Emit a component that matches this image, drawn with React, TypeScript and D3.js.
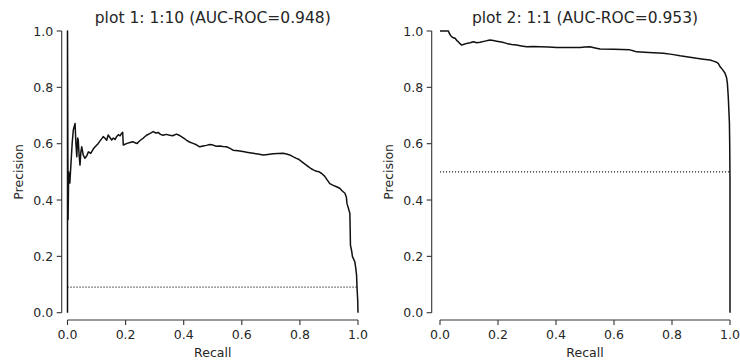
import React from "react";
import * as d3 from "d3";

// ---- Data ----
const titles = ["plot 1: 1:10 (AUC-ROC=0.948)", "plot 2: 1:1 (AUC-ROC=0.953)"];
const baselines = [0.0909, 0.5];
const tickValues = [0, 0.2, 0.4, 0.6, 0.8, 1.0];

// [recall, precision]
const curve1: [number, number][] = [
  [0, 0], [0, 1], [0.002, 0.33], [0.004, 0.5], [0.008, 0.46], [0.012, 0.53], [0.016, 0.6],
  [0.02, 0.649], [0.026, 0.672], [0.029, 0.6], [0.032, 0.554], [0.035, 0.62], [0.037, 0.613],
  [0.04, 0.56], [0.043, 0.524], [0.046, 0.57], [0.049, 0.589], [0.054, 0.56], [0.06, 0.548],
  [0.066, 0.556], [0.072, 0.571], [0.08, 0.566], [0.088, 0.58], [0.095, 0.589], [0.1, 0.594],
  [0.106, 0.601], [0.112, 0.61], [0.118, 0.618], [0.123, 0.625], [0.129, 0.619], [0.135, 0.612],
  [0.14, 0.631], [0.146, 0.622], [0.152, 0.613], [0.158, 0.62], [0.164, 0.615], [0.169, 0.625],
  [0.175, 0.632], [0.181, 0.628], [0.186, 0.637], [0.19, 0.64], [0.192, 0.595], [0.198, 0.598],
  [0.205, 0.601], [0.215, 0.604], [0.225, 0.607], [0.232, 0.603], [0.24, 0.601], [0.244, 0.606],
  [0.252, 0.613], [0.261, 0.62], [0.272, 0.63], [0.283, 0.636], [0.295, 0.643], [0.304, 0.638],
  [0.312, 0.64], [0.32, 0.633], [0.329, 0.63], [0.34, 0.633], [0.352, 0.63], [0.362, 0.628],
  [0.375, 0.634], [0.384, 0.63], [0.392, 0.625], [0.4, 0.62], [0.409, 0.613], [0.42, 0.606],
  [0.432, 0.601], [0.444, 0.596], [0.455, 0.589], [0.467, 0.592], [0.478, 0.594], [0.49, 0.597],
  [0.501, 0.595], [0.512, 0.591], [0.524, 0.592], [0.535, 0.59], [0.547, 0.589], [0.558, 0.584],
  [0.57, 0.577], [0.587, 0.575], [0.604, 0.572], [0.621, 0.569], [0.639, 0.566], [0.656, 0.563],
  [0.673, 0.56], [0.69, 0.562], [0.708, 0.564], [0.725, 0.565], [0.742, 0.566], [0.754, 0.563],
  [0.765, 0.56], [0.776, 0.554], [0.788, 0.548], [0.797, 0.544], [0.805, 0.537], [0.814, 0.53],
  [0.822, 0.524], [0.83, 0.518], [0.839, 0.511], [0.848, 0.506], [0.857, 0.502], [0.866, 0.5],
  [0.874, 0.495], [0.885, 0.485], [0.895, 0.47], [0.903, 0.458], [0.915, 0.452], [0.926, 0.447],
  [0.937, 0.442], [0.946, 0.432], [0.955, 0.424], [0.96, 0.41], [0.962, 0.388], [0.972, 0.353],
  [0.973, 0.3], [0.974, 0.24], [0.978, 0.22], [0.981, 0.199], [0.985, 0.19], [0.989, 0.181],
  [0.992, 0.16], [0.995, 0.134], [0.997, 0.081], [0.999, 0.045], [1.0, 0.0],
];

const curve2: [number, number][] = [
  [0, 1], [0.029, 1], [0.032, 0.992], [0.036, 0.985], [0.04, 0.98], [0.046, 0.976], [0.052, 0.974],
  [0.058, 0.966], [0.063, 0.962], [0.069, 0.955], [0.075, 0.95], [0.083, 0.953], [0.092, 0.956],
  [0.104, 0.958], [0.115, 0.962], [0.127, 0.958], [0.138, 0.96], [0.155, 0.964], [0.172, 0.968],
  [0.184, 0.966], [0.195, 0.964], [0.212, 0.961], [0.23, 0.956], [0.247, 0.952], [0.264, 0.95],
  [0.281, 0.947], [0.299, 0.944], [0.322, 0.945], [0.345, 0.944], [0.374, 0.943], [0.402, 0.941],
  [0.44, 0.941], [0.483, 0.941], [0.5, 0.943], [0.517, 0.944], [0.535, 0.94], [0.552, 0.936],
  [0.6, 0.935], [0.655, 0.933], [0.666, 0.93], [0.678, 0.926], [0.72, 0.924], [0.77, 0.921],
  [0.8, 0.917], [0.828, 0.912], [0.856, 0.908], [0.885, 0.903], [0.908, 0.9], [0.931, 0.897],
  [0.943, 0.893], [0.954, 0.889], [0.96, 0.884], [0.966, 0.873], [0.975, 0.862], [0.983, 0.85],
  [0.988, 0.835], [0.991, 0.814], [0.994, 0.767], [0.996, 0.72], [0.998, 0.673], [0.999, 0.6],
  [1.0, 0.471], [1.0, 0.0],
];

const curves = [curve1, curve2];

// ---- Layout ----
const W = 740;
const H = 360;
const FONT = "DejaVu Sans, sans-serif";
const TEXT = "#262626";

const panels = [
  { x0: 67.5, x1: 358, spineX: 61.7 },
  { x0: 440, x1: 730, spineX: 431.7 },
];
const Y_TOP = 31;
const Y_BOTTOM = 312.7;
const X_SPINE_Y = 320;

function Panel({ idx }: { idx: number }) {
  const p = panels[idx];
  const x = d3.scaleLinear().domain([0, 1]).range([p.x0, p.x1]);
  const y = d3.scaleLinear().domain([0, 1]).range([Y_BOTTOM, Y_TOP]);
  const line = d3
    .line<[number, number]>()
    .x((d) => x(d[0]))
    .y((d) => y(d[1]));
  const cx = (p.x0 + p.x1) / 2;
  const base = baselines[idx];
  return (
    <g>
      <text x={cx} y={23} textAnchor="middle" fontSize={15.5} fill={TEXT} fontFamily={FONT}>
        {titles[idx]}
      </text>
      <line x1={p.spineX} x2={p.spineX} y1={y(0)} y2={y(1)} stroke="#333" strokeWidth={1.1} />
      {tickValues.map((t) => (
        <g key={"y" + t}>
          <line x1={p.spineX - 5} x2={p.spineX} y1={y(t)} y2={y(t)} stroke="#333" strokeWidth={1.1} />
          <text
            x={p.spineX - 8.5}
            y={y(t)}
            dy="0.36em"
            textAnchor="end"
            fontSize={12.5}
            fill={TEXT}
            fontFamily={FONT}
          >
            {d3.format(".1f")(t)}
          </text>
        </g>
      ))}
      <line x1={x(0)} x2={x(1)} y1={X_SPINE_Y} y2={X_SPINE_Y} stroke="#333" strokeWidth={1.1} />
      {tickValues.map((t) => (
        <g key={"x" + t}>
          <line x1={x(t)} x2={x(t)} y1={X_SPINE_Y} y2={X_SPINE_Y + 5} stroke="#333" strokeWidth={1.1} />
          <text x={x(t)} y={339} textAnchor="middle" fontSize={12.5} fill={TEXT} fontFamily={FONT}>
            {d3.format(".1f")(t)}
          </text>
        </g>
      ))}
      <text x={cx} y={357} textAnchor="middle" fontSize={12.5} fill={TEXT} fontFamily={FONT}>
        Recall
      </text>
      <text
        transform={`translate(${p.spineX - 43},${(Y_TOP + Y_BOTTOM) / 2}) rotate(-90)`}
        dy="0.36em"
        textAnchor="middle"
        fontSize={12.5}
        fill={TEXT}
        fontFamily={FONT}
      >
        Precision
      </text>
      <line
        x1={x(0)}
        x2={x(1)}
        y1={y(base)}
        y2={y(base)}
        stroke="#222"
        strokeWidth={1.1}
        strokeDasharray="1.1,1.9"
      />
      <path d={line(curves[idx]) || ""} fill="none" stroke="#111" strokeWidth={1.5} strokeLinejoin="round" />
    </g>
  );
}

export default function App() {
  return (
    <svg
      width={W}
      height={H}
      viewBox={`0 0 ${W} ${H}`}
      style={{ position: "absolute", left: 0, top: 0, background: "#fff" }}
    >
      <rect x={0} y={0} width={W} height={H} fill="#fff" />
      <Panel idx={0} />
      <Panel idx={1} />
    </svg>
  );
}
